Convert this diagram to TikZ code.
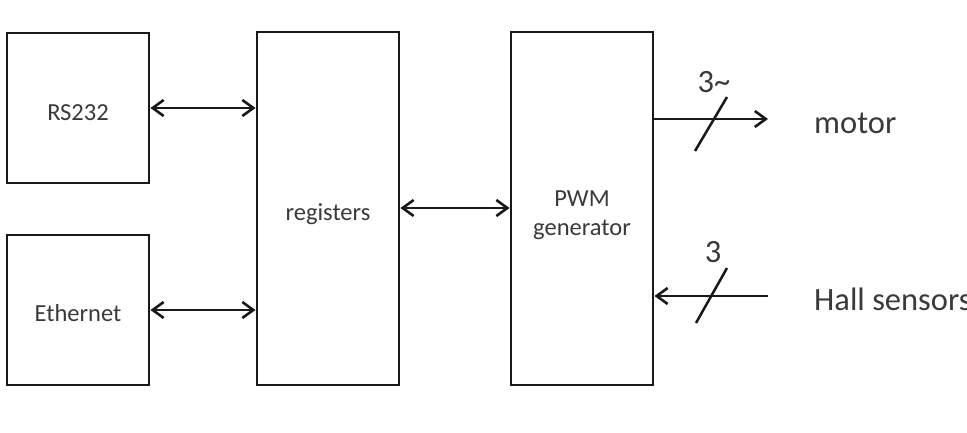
\documentclass[tikz,border=0pt]{standalone}
\usepackage{fontspec}
\setmainfont{Carlito}
\usetikzlibrary{arrows.meta}
\definecolor{txt}{HTML}{3A3A3A}
\newcommand{\bl}[2]{\raisebox{-#1}[0pt][0pt]{\makebox[0pt]{#2}}}
\tikzset{
  blk/.style={draw=black!90, line width=2.9pt, rectangle, minimum width=142pt, text=txt, font=\fontsize{24.5}{29}\selectfont, inner sep=0pt},
  conn/.style={draw=black!90, line width=2.5pt, arrows={Straight Barb[length=11pt,width=16pt,line width=2.6pt]-Straight Barb[length=11pt,width=16pt,line width=2.6pt]}},
  oneway/.style={draw=black!90, line width=2.5pt, -{Straight Barb[length=11pt,width=16pt,line width=2.6pt]}},
  slash/.style={draw=black!90, line width=2.5pt},
  lbl/.style={text=txt, font=\fontsize{32.5}{37}\selectfont, inner sep=0pt}
}
\begin{document}
\begin{tikzpicture}[x=1pt,y=-1pt]
\useasboundingbox[fill=white] (0,0) rectangle (967,432);
\node[blk, minimum height=150pt] (rs) at (78,108) {\bl{12pt}{RS232}};
\node[blk, minimum height=150pt] (eth) at (78,310) {\bl{11.5pt}{Ethernet}};
\node[blk, minimum height=353pt] (reg) at (328,208.5) {\bl{12pt}{registers}};
\node[blk, minimum height=353pt] (pwm) at (582,208.5) {\bl{-2.5pt}{PWM}\bl{26.5pt}{generator}};
\draw[conn] (rs.east |- 0,108) -- (reg.west |- 0,108);
\draw[conn] (eth.east |- 0,310) -- (reg.west |- 0,310);
\draw[conn] (reg.east |- 0,208) -- (pwm.west |- 0,208);
\coordinate (mend) at (768,119);
\coordinate (hstart) at (768,296);
\draw[oneway] (pwm.east |- mend) -- (mend);
\draw[oneway] (hstart) -- (pwm.east |- hstart);
\coordinate (s1a) at (695,151);
\coordinate (s1b) at (727,97);
\coordinate (s2a) at (696,323);
\coordinate (s2b) at (727,268);
\draw[slash] (s1a) -- (s1b);
\draw[slash] (s2a) -- (s2b);
\node[lbl] (three1) at (714,82) {3\textasciitilde};
\node[lbl] (three2) at (713,252) {3};
\node[lbl, anchor=base west] (motor) at (814,133) {motor};
\node[lbl, anchor=base west] (hall) at (814,310) {Hall sensors};
\end{tikzpicture}
\end{document}
